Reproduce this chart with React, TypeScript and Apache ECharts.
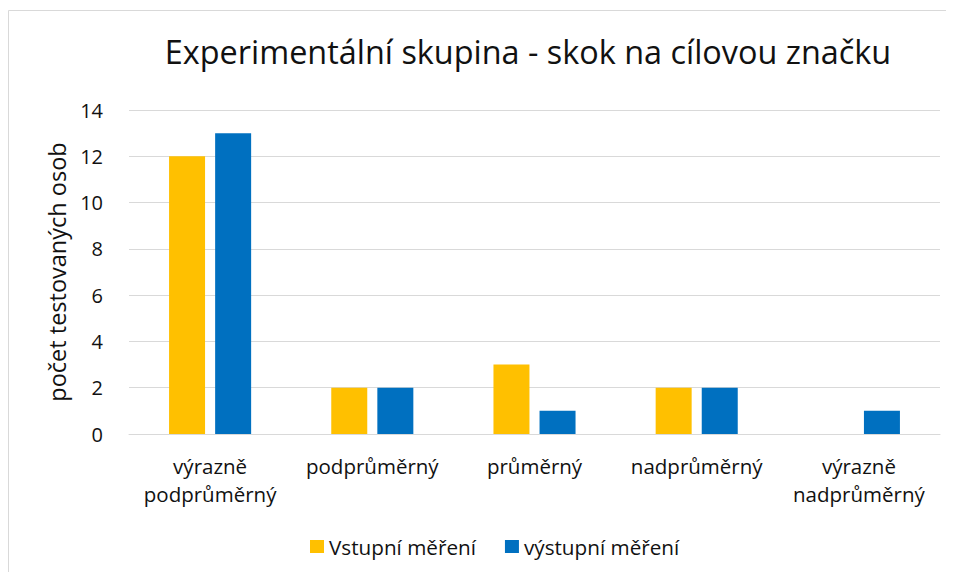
import React, { useEffect, useRef } from "react";
import * as echarts from "echarts";

const categories = ["výrazně\npodprůměrný", "podprůměrný", "průměrný", "nadprůměrný", "výrazně\nnadprůměrný"];
const vstupni = [12, 2, 3, 2, 0];
const vystupni = [13, 2, 1, 2, 1];
const seriesNames = ["Vstupní měření", "výstupní měření"];
const titleText = "Experimentální skupina - skok na cílovou značku";
const yAxisName = "počet testovaných osob";

const FONT = "'Open Sans', 'Noto Sans', sans-serif";

export default function App() {
  const ref = useRef<HTMLDivElement>(null);
  useEffect(() => {
    if (!ref.current) return;
    const chart = echarts.init(ref.current, null, { renderer: "svg" });
    chart.setOption({
      animation: false,
      backgroundColor: "#ffffff",
      textStyle: { fontFamily: FONT },
      graphic: [
        {
          type: "rect",
          shape: { x: 8.5, y: 10.5, width: 980, height: 620 },
          style: { fill: "none", stroke: "#d9d9d9", lineWidth: 1 },
          silent: true,
        },
      ],
      title: {
        text: titleText,
        left: 523,
        top: 30,
        textAlign: "center",
        textStyle: { fontFamily: FONT, fontSize: 32.4, fontWeight: "normal", color: "#111111" },
      },
      legend: {
        bottom: 18,
        left: 305,
        itemWidth: 14,
        itemHeight: 13,
        itemGap: 29,
        icon: "rect",
        textStyle: { fontFamily: FONT, fontSize: 20.7, color: "#111111" },
        data: seriesNames,
      },
      grid: { left: 129, right: 14, top: 110, bottom: 146, containLabel: false },
      xAxis: {
        type: "category",
        data: categories,
        axisLine: { show: true, lineStyle: { color: "#d9d9d9" } },
        axisTick: { show: false },
        axisLabel: { fontFamily: FONT, fontSize: 20.5, color: "#111111", lineHeight: 28, margin: 18, interval: 0 },
      },
      yAxis: {
        type: "value",
        min: 0,
        max: 14,
        interval: 2,
        name: yAxisName,
        nameLocation: "middle",
        nameGap: 52,
        nameTextStyle: { fontFamily: FONT, fontSize: 23.5, color: "#111111" },
        axisLine: { show: false },
        axisTick: { show: false },
        splitLine: { lineStyle: { color: "#d9d9d9", width: 1 } },
        axisLabel: { fontFamily: FONT, fontSize: 20, color: "#111111", margin: 26 },
      },
      series: [
        {
          name: seriesNames[0],
          type: "bar",
          data: vstupni,
          barWidth: 36,
          barGap: "28%",
          itemStyle: { color: "#FFC000" },
        },
        {
          name: seriesNames[1],
          type: "bar",
          data: vystupni,
          barWidth: 36,
          barGap: "28%",
          itemStyle: { color: "#0070C0" },
        },
      ],
    });
    return () => chart.dispose();
  }, []);
  return <div ref={ref} style={{ width: 954, height: 580, margin: -8 }} />;
}
